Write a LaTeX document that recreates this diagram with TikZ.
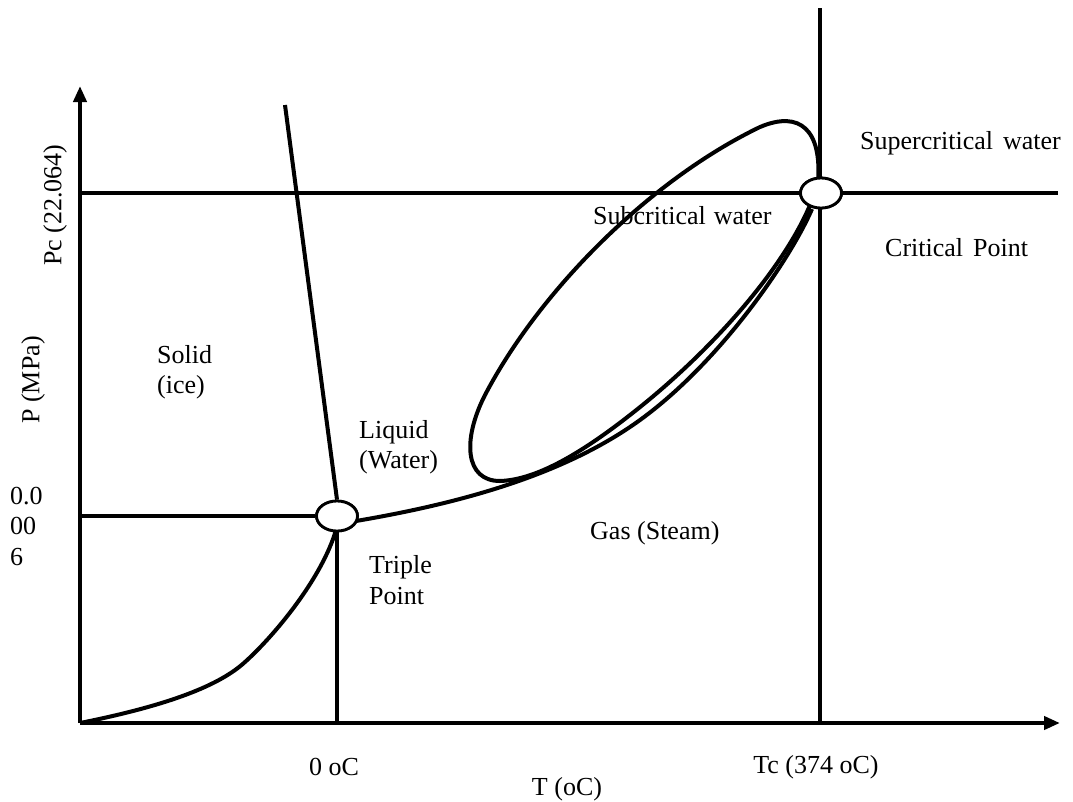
\documentclass[tikz,border=0pt]{standalone}
\usepackage{fontspec}
\setmainfont{Liberation Serif}
\usetikzlibrary{arrows.meta,shapes.geometric}
\tikzset{
  lbl/.style={font=\fontsize{26}{30.5}\selectfont, inner sep=0pt, align=left},
  thick line/.style={line width=4pt},
  curve/.style={line width=4pt, line join=round},
  pt/.style={draw, ellipse, fill=white, line width=2.8pt, minimum width=41pt, minimum height=30pt, inner sep=0pt},
  axis/.style={line width=4pt, -{Triangle[length=16pt,width=13pt]}}
}
\begin{document}
\begin{tikzpicture}[x=1pt,y=-1pt]
\useasboundingbox (0,0) rectangle (1073,801);
% named coordinates
\coordinate (O) at (80,723);
\coordinate (ytop) at (80,86);
\coordinate (xend) at (1060,723);
\coordinate (pcL) at (80,193);
\coordinate (pcR) at (1058,193);
\coordinate (tcTop) at (820,8);
\coordinate (tcBot) at (820,723);
\coordinate (tpL) at (80,516);
\coordinate (tpBot) at (337,723);
\coordinate (meltTop) at (285,105);
% points (placed first for anchors, redrawn on top later)
\node[pt] (tp) at (337,516) {};
\node[pt] (cp) at (821,193) {};
% straight lines
\draw[thick line] (pcL) -- (pcR);
\draw[thick line] (tcTop) -- (tcBot);
\draw[thick line] (tpL) -- (tp.west);
\draw[thick line] (tp.south) -- (tpBot);
\draw[thick line] (meltTop) -- (tp.north);
% sublimation curve
\draw[curve] (O) .. controls (170,705) and (220,685) .. (245,662)
  .. controls (275,635) and (322,578) .. (336,530);
% vaporization curve
\draw[curve] (356,521) .. controls (450,505) and (560,478) .. (640,420)
  .. controls (720,362) and (790,260) .. (812,209);
% subcritical loop
\draw[curve] (818,182) .. controls (800,250) and (720,345) .. (630,415)
  .. controls (570,462) and (530,480) .. (500,481)
  .. controls (465,481) and (462,440) .. (485,395)
  .. controls (540,290) and (650,180) .. (760,127)
  .. controls (800,110) and (822,130) .. cycle;
% axes
\draw[axis] (O) -- (ytop);
\draw[axis] (O) -- (xend);
% points on top
\node[pt] at (tp) {};
\node[pt] at (cp) {};
% labels
\node[lbl, anchor=west] (sup) at (860,143) {Supercritical\hspace{10pt}water};
\node[lbl, anchor=west] (crit) at (885,248) {Critical\hspace{10pt}Point};
\node[lbl, anchor=west] (sub) at (593,216) {Subcritical\hspace{8pt}water};
\node[lbl, anchor=west] (gas) at (590,533) {Gas (Steam)};
\node[lbl, anchor=west] (solid) at (157,372) {Solid\\(ice)};
\node[lbl, anchor=west] (liq) at (359,447) {Liquid\\(Water)};
\node[lbl, anchor=west] (trip) at (369,580) {Triple\\Point};
\node[lbl] (zeroC) at (334,767) {0 oC};
\node[lbl] (tlab) at (567,789) {T (oC)};
\node[lbl] (tclab) at (816,767) {Tc (374 oC)};
\node[lbl, rotate=90] (pclab) at (55,205) {Pc (22.064)};
\node[lbl, rotate=90] (plab) at (33,380) {P (MPa)};
\node[lbl, anchor=west] (ptp) at (10,526) {0.0\\00\\6};
\end{tikzpicture}
\end{document}
